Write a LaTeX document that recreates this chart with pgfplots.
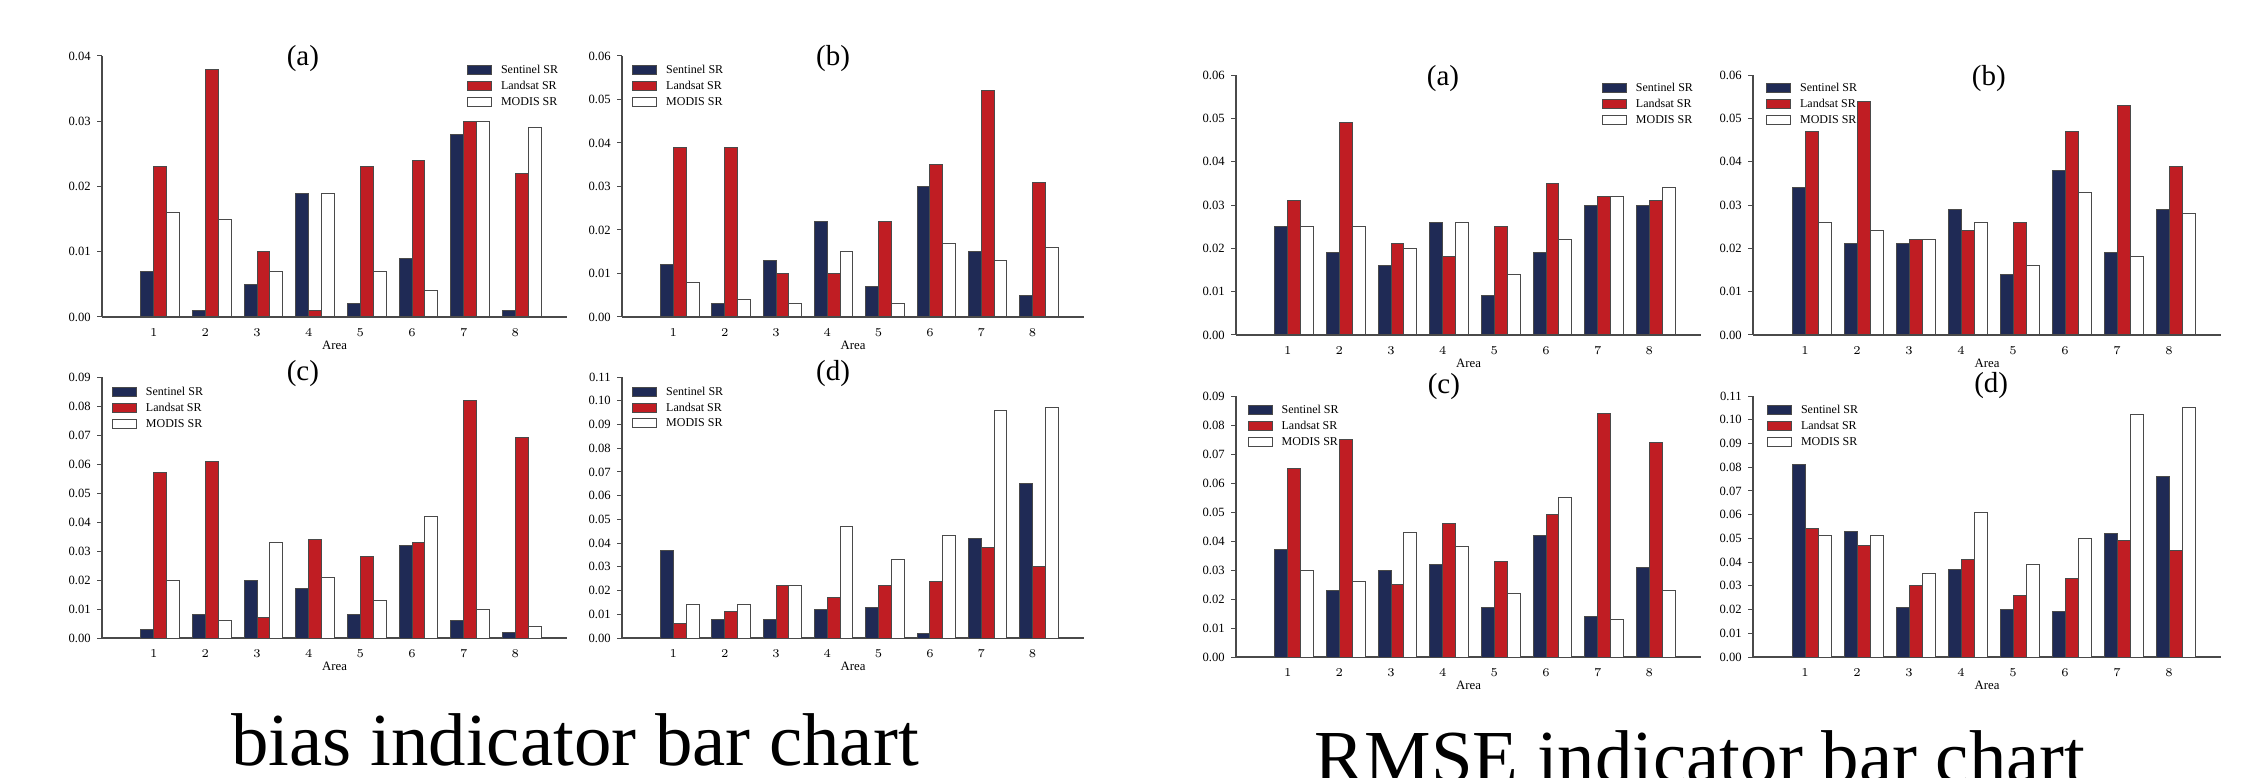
\documentclass[border=0pt]{standalone}
\usepackage{fontspec}
\setmainfont{Liberation Serif}
\usepackage{pgfplots}
\pgfplotsset{compat=1.18}
\usepackage{pgfplotstable}
\definecolor{sen}{HTML}{1F2A55}
\definecolor{lan}{HTML}{C01D23}
\definecolor{edge}{HTML}{4A4A4A}

\pgfplotstableread{
area sen lan mod
1 0.007 0.023 0.016
2 0.001 0.038 0.015
3 0.005 0.010 0.007
4 0.019 0.001 0.019
5 0.002 0.023 0.007
6 0.009 0.024 0.004
7 0.028 0.030 0.030
8 0.001 0.022 0.029
}\biasA
\pgfplotstableread{
area sen lan mod
1 0.012 0.039 0.008
2 0.003 0.039 0.004
3 0.013 0.010 0.003
4 0.022 0.010 0.015
5 0.007 0.022 0.003
6 0.030 0.035 0.017
7 0.015 0.052 0.013
8 0.005 0.031 0.016
}\biasB
\pgfplotstableread{
area sen lan mod
1 0.003 0.057 0.020
2 0.008 0.061 0.006
3 0.020 0.007 0.033
4 0.017 0.034 0.021
5 0.008 0.028 0.013
6 0.032 0.033 0.042
7 0.006 0.082 0.010
8 0.002 0.069 0.004
}\biasC
\pgfplotstableread{
area sen lan mod
1 0.037 0.006 0.014
2 0.008 0.011 0.014
3 0.008 0.022 0.022
4 0.012 0.017 0.047
5 0.013 0.022 0.033
6 0.002 0.024 0.043
7 0.042 0.038 0.096
8 0.065 0.030 0.097
}\biasD
\pgfplotstableread{
area sen lan mod
1 0.025 0.031 0.025
2 0.019 0.049 0.025
3 0.016 0.021 0.020
4 0.026 0.018 0.026
5 0.009 0.025 0.014
6 0.019 0.035 0.022
7 0.030 0.032 0.032
8 0.030 0.031 0.034
}\rmseA
\pgfplotstableread{
area sen lan mod
1 0.034 0.047 0.026
2 0.021 0.054 0.024
3 0.021 0.022 0.022
4 0.029 0.024 0.026
5 0.014 0.026 0.016
6 0.038 0.047 0.033
7 0.019 0.053 0.018
8 0.029 0.039 0.028
}\rmseB
\pgfplotstableread{
area sen lan mod
1 0.037 0.065 0.030
2 0.023 0.075 0.026
3 0.030 0.025 0.043
4 0.032 0.046 0.038
5 0.017 0.033 0.022
6 0.042 0.049 0.055
7 0.014 0.084 0.013
8 0.031 0.074 0.023
}\rmseC
\pgfplotstableread{
area sen lan mod
1 0.081 0.054 0.051
2 0.053 0.047 0.051
3 0.021 0.030 0.035
4 0.037 0.041 0.061
5 0.020 0.026 0.039
6 0.019 0.033 0.050
7 0.052 0.049 0.102
8 0.076 0.045 0.105
}\rmseD

\pgfplotsset{
  panel/.style={
    scale only axis, anchor=south west,
    xmin=0, xmax=9, ymin=0,
    axis x line*=bottom, axis y line*=left,
    axis line style={-, draw=edge, line width=0.6pt},
    every outer x axis line/.append style={-},
    every outer y axis line/.append style={-},
    xtick={1,2,3,4,5,6,7,8},
    xtick style={draw=none},
    ytick style={draw=edge, line width=0.5pt},
    tick align=outside, major tick length=2.5pt,
    tick label style={font=\fontsize{6.3}{7}\selectfont},
    yticklabel style={anchor=east, inner sep=0pt, xshift=-3pt,
      /pgf/number format/fixed, /pgf/number format/fixed zerofill,
      /pgf/number format/precision=2, /pgf/number format/assume math mode=true},
    xticklabel style={anchor=north, inner sep=0pt, yshift=-3pt},
    scaled y ticks=false,
    xlabel={Area},
    xlabel style={font=\fontsize{6.4}{7}\selectfont, at={(axis description cs:0.5,0)}, anchor=center, yshift=-14pt},
    legend style={draw=none, fill=none, inner sep=0pt, outer sep=0pt,
      font=\fontsize{6}{7}\selectfont, anchor=north west, row sep=2.4pt,
      nodes={inner sep=0pt, text height=4.5pt, text depth=1pt},
      /tikz/every odd column/.append style={column sep=4.5pt}},
    legend cell align=left,
    title style={font=\fontsize{14.5}{16}\selectfont, anchor=center},
  },
  bars/.style={ybar, bar width=0.25, draw=edge, line width=0.5pt,
    legend image code/.code={\draw[##1, line width=0.5pt] (0pt,-2.25pt) rectangle (12pt,2.25pt);}},
}

\begin{document}
\begin{tikzpicture}
\useasboundingbox (0,0) rectangle (1126.5pt,388.5pt);

% ---------- bias (a)
\begin{axis}[panel, at={(51pt,230pt)}, width=232.5pt, height=130.5pt, ymax=0.04,
  ytick={0,0.01,0.02,0.03,0.04},
  title={(a)}, title style={at={(axis description cs:0.432,0.943)}},
  legend style={at={(axis description cs:0.785,0.967)}}]
\addplot[bars, fill=sen, bar shift=-0.125] table[x=area,y=sen]{\biasA};
\addplot[bars, fill=lan, bar shift=0.125] table[x=area,y=lan]{\biasA};
\addplot[bars, fill=white, bar shift=0.375] table[x=area,y=mod]{\biasA};
\legend{Sentinel SR, Landsat SR, MODIS SR}
\end{axis}

% ---------- bias (b)
\begin{axis}[panel, at={(311pt,230pt)}, width=231pt, height=130.5pt, ymax=0.06,
  ytick={0,0.01,0.02,0.03,0.04,0.05,0.06},
  title={(b)}, title style={at={(axis description cs:0.457,0.943)}},
  legend style={at={(axis description cs:0.022,0.967)}}]
\addplot[bars, fill=sen, bar shift=-0.125] table[x=area,y=sen]{\biasB};
\addplot[bars, fill=lan, bar shift=0.125] table[x=area,y=lan]{\biasB};
\addplot[bars, fill=white, bar shift=0.375] table[x=area,y=mod]{\biasB};
\legend{Sentinel SR, Landsat SR, MODIS SR}
\end{axis}

% ---------- bias (c)
\begin{axis}[panel, at={(51pt,69.5pt)}, width=232.5pt, height=130.5pt, ymax=0.09,
  ytick={0,0.01,0.02,0.03,0.04,0.05,0.06,0.07,0.08,0.09},
  title={(c)}, title style={at={(axis description cs:0.432,0.966)}},
  legend style={at={(axis description cs:0.0215,0.964)}}]
\addplot[bars, fill=sen, bar shift=-0.125] table[x=area,y=sen]{\biasC};
\addplot[bars, fill=lan, bar shift=0.125] table[x=area,y=lan]{\biasC};
\addplot[bars, fill=white, bar shift=0.375] table[x=area,y=mod]{\biasC};
\legend{Sentinel SR, Landsat SR, MODIS SR}
\end{axis}

% ---------- bias (d)
\begin{axis}[panel, at={(311pt,69.5pt)}, width=231pt, height=130.5pt, ymax=0.11,
  ytick={0,0.01,0.02,0.03,0.04,0.05,0.06,0.07,0.08,0.09,0.10,0.11},
  title={(d)}, title style={at={(axis description cs:0.457,0.969)}},
  legend style={at={(axis description cs:0.022,0.964)}}]
\addplot[bars, fill=sen, bar shift=-0.125] table[x=area,y=sen]{\biasD};
\addplot[bars, fill=lan, bar shift=0.125] table[x=area,y=lan]{\biasD};
\addplot[bars, fill=white, bar shift=0.375] table[x=area,y=mod]{\biasD};
\legend{Sentinel SR, Landsat SR, MODIS SR}
\end{axis}

% ---------- RMSE (a)
\begin{axis}[panel, at={(618pt,221pt)}, width=232.5pt, height=130pt, ymax=0.06,
  ytick={0,0.01,0.02,0.03,0.04,0.05,0.06},
  title={(a)}, title style={at={(axis description cs:0.445,0.942)}},
  legend style={at={(axis description cs:0.787,0.971)}}]
\addplot[bars, fill=sen, bar shift=-0.125] table[x=area,y=sen]{\rmseA};
\addplot[bars, fill=lan, bar shift=0.125] table[x=area,y=lan]{\rmseA};
\addplot[bars, fill=white, bar shift=0.375] table[x=area,y=mod]{\rmseA};
\legend{Sentinel SR, Landsat SR, MODIS SR}
\end{axis}

% ---------- RMSE (b)
\begin{axis}[panel, at={(876.5pt,221pt)}, width=234pt, height=130pt, ymax=0.06,
  ytick={0,0.01,0.02,0.03,0.04,0.05,0.06},
  title={(b)}, title style={at={(axis description cs:0.504,0.942)}},
  legend style={at={(axis description cs:0.028,0.971)}}]
\addplot[bars, fill=sen, bar shift=-0.125] table[x=area,y=sen]{\rmseB};
\addplot[bars, fill=lan, bar shift=0.125] table[x=area,y=lan]{\rmseB};
\addplot[bars, fill=white, bar shift=0.375] table[x=area,y=mod]{\rmseB};
\legend{Sentinel SR, Landsat SR, MODIS SR}
\end{axis}

% ---------- RMSE (c)
\begin{axis}[panel, at={(618pt,60pt)}, width=232.5pt, height=130.5pt, ymax=0.09,
  ytick={0,0.01,0.02,0.03,0.04,0.05,0.06,0.07,0.08,0.09},
  title={(c)}, title style={at={(axis description cs:0.447,0.992)}},
  legend style={at={(axis description cs:0.025,0.967)}}]
\addplot[bars, fill=sen, bar shift=-0.125] table[x=area,y=sen]{\rmseC};
\addplot[bars, fill=lan, bar shift=0.125] table[x=area,y=lan]{\rmseC};
\addplot[bars, fill=white, bar shift=0.375] table[x=area,y=mod]{\rmseC};
\legend{Sentinel SR, Landsat SR, MODIS SR}
\end{axis}

% ---------- RMSE (d)
\begin{axis}[panel, at={(876.5pt,60pt)}, width=234pt, height=130.5pt, ymax=0.11,
  ytick={0,0.01,0.02,0.03,0.04,0.05,0.06,0.07,0.08,0.09,0.10,0.11},
  title={(d)}, title style={at={(axis description cs:0.509,0.996)}},
  legend style={at={(axis description cs:0.030,0.967)}}]
\addplot[bars, fill=sen, bar shift=-0.125] table[x=area,y=sen]{\rmseD};
\addplot[bars, fill=lan, bar shift=0.125] table[x=area,y=lan]{\rmseD};
\addplot[bars, fill=white, bar shift=0.375] table[x=area,y=mod]{\rmseD};
\legend{Sentinel SR, Landsat SR, MODIS SR}
\end{axis}

\node[anchor=base, inner sep=0pt, font=\fontsize{37.4}{40}\selectfont] at (287.5pt,6pt) {bias indicator bar chart};
\node[anchor=base, inner sep=0pt, font=\fontsize{37.4}{40}\selectfont] at (850pt,-2.5pt) {RMSE indicator bar chart};
\end{tikzpicture}
\end{document}
